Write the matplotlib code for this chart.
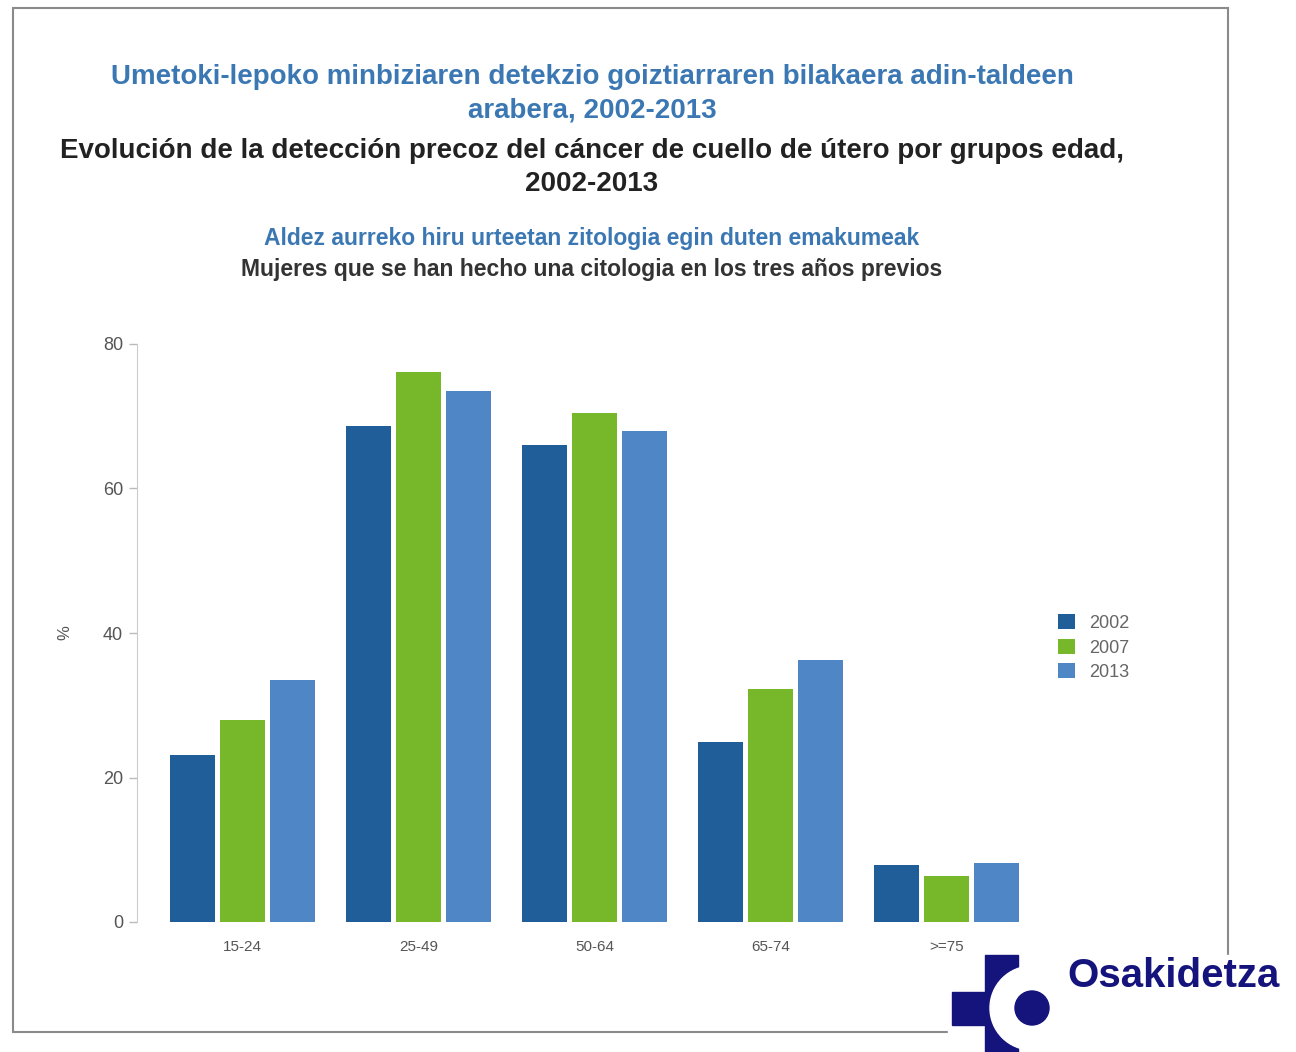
import matplotlib.pyplot as plt
import numpy as np
from matplotlib.patches import Rectangle, Circle

plt.rcParams['font.family'] = ['Liberation Sans', 'DejaVu Sans']

# Datos
groups = ["15-24", "25-49", "50-64", "65-74", ">=75"]
years = ["2002", "2007", "2013"]
v2002 = [23.1, 68.7, 66.0, 24.9, 7.9]
v2007 = [28.0, 76.1, 70.4, 32.2, 6.4]
v2013 = [33.5, 73.5, 68.0, 36.3, 8.2]
colors = ["#1F5E99", "#77B82B", "#4F86C5"]

W, H = 1296, 1052
fig = plt.figure(figsize=(W / 100, H / 100), dpi=100)

# marco
fig.patches.append(Rectangle((13 / W, 1 - 1032 / H), (1228 - 13) / W, (1032 - 8) / H,
                             transform=fig.transFigure, fill=False,
                             edgecolor="#8a8a8a", linewidth=1.5, zorder=0))

ax = fig.add_axes([137 / W, 1 - 922 / H, 915 / W, (922 - 344) / H])
x = np.arange(len(groups))
step = 0.284
width = 0.255
for k, (vals, c, lab) in enumerate(zip([v2002, v2007, v2013], colors, years)):
    ax.bar(x + (k - 1) * step, vals, width=width, color=c, label=lab)

ax.set_xlim(-0.6, 4.6)
ax.set_ylim(0, 80)
ax.set_yticks([0, 20, 40, 60, 80])
ax.set_xticks(x)
ax.set_xticklabels(groups)
for s in ["top", "right", "bottom"]:
    ax.spines[s].set_visible(False)
ax.spines["left"].set_color("#cccccc")
ax.tick_params(axis="y", colors="#555555", labelsize=13, length=6, width=1, pad=4)
ax.tick_params(axis="y", color="#bbbbbb")
ax.tick_params(axis="x", length=0, labelsize=11, labelcolor="#555555", pad=13)
ax.set_ylabel("%", color="#555555", fontsize=12, labelpad=22)

leg = ax.legend(loc="upper left", bbox_to_anchor=(1042 / W, 1 - 598 / H),
                bbox_transform=fig.transFigure, frameon=False, fontsize=13,
                handlelength=0.9, handleheight=0.9, handletextpad=0.8,
                labelspacing=0.38)
for t in leg.get_texts():
    t.set_color("#666666")

blue = "#3B78B3"
dark = "#222222"
cx = 592 / W
fig.text(cx, 1 - 77 / H, "Umetoki-lepoko minbiziaren detekzio goiztiarraren bilakaera adin-taldeen",
         ha="center", va="center", fontsize=20, fontweight="bold", color=blue)
fig.text(cx, 1 - 111 / H, "arabera, 2002-2013",
         ha="center", va="center", fontsize=20, fontweight="bold", color=blue)
fig.text(cx, 1 - 151 / H, "Evolución de la detección precoz del cáncer de cuello de útero por grupos edad,",
         ha="center", va="center", fontsize=20, fontweight="bold", color=dark)
fig.text(cx, 1 - 184 / H, "2002-2013",
         ha="center", va="center", fontsize=20, fontweight="bold", color=dark)
fig.text(cx, 1 - 238 / H, "Aldez aurreko hiru urteetan zitologia egin duten emakumeak",
         ha="center", va="center", fontsize=16.5, fontweight="bold", color=blue)
fig.text(cx, 1 - 270 / H, "Mujeres que se han hecho una citologia en los tres años previos",
         ha="center", va="center", fontsize=16.5, fontweight="bold", color="#333333")

# logo Osakidetza
navy = "#15137C"
fig.patches.append(Rectangle((948 / W, 0), 1 - 948 / W, 1 - 955 / H,
                             transform=fig.transFigure, color="white", zorder=5))
fig.patches.append(Rectangle((952 / W, 1 - 1025 / H), 36 / W, 33 / H,
                             transform=fig.transFigure, color=navy, zorder=6))
fig.patches.append(Rectangle((985 / W, 0), 33 / W, 1 - 955 / H,
                             transform=fig.transFigure, color=navy, zorder=6))
logo_ax = fig.add_axes([0, 0, 1, 1], zorder=7)
logo_ax.set_xlim(0, W)
logo_ax.set_ylim(H, 0)
logo_ax.axis("off")
logo_ax.add_patch(Circle((1032, 1008), 42, color="white"))
logo_ax.add_patch(Circle((1032, 1008), 17, color=navy))
logo_ax.text(1067, 976, "Osakidetza", ha="left", va="center", fontsize=29,
             fontweight="bold", color=navy)

fig.savefig("out.png", dpi=100)
